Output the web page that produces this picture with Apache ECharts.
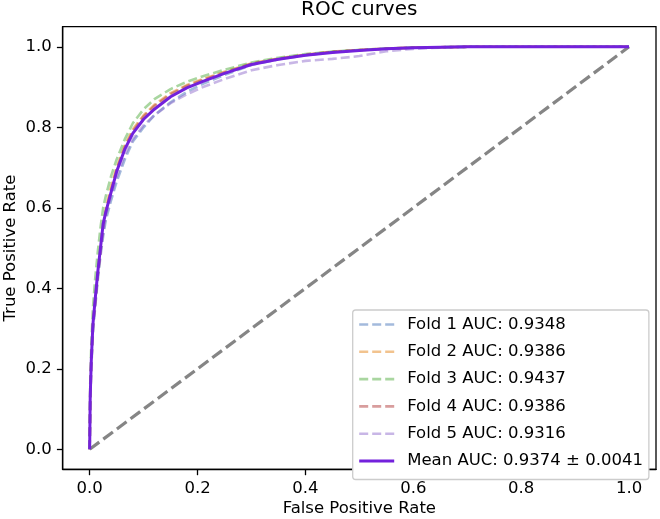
<!DOCTYPE html>
<html>
<head>
<meta charset="utf-8">
<script src="https://cdn.jsdelivr.net/npm/echarts@6/dist/echarts.min.js"></script>
<style>
html,body{margin:0;padding:0;background:#fff;}
#chart{width:660px;height:519px;}
</style>
</head>
<body>
<div id="chart"></div>
<script>
// ---- data ----
var tickValues = [0, 0.2, 0.4, 0.6, 0.8, 1.0];
var fprGrid = [0, 0.001, 0.003, 0.006, 0.01, 0.015, 0.02, 0.025, 0.03, 0.04, 0.05, 0.065, 0.08, 0.1, 0.12, 0.15, 0.18, 0.21, 0.25, 0.3, 0.35, 0.4, 0.45, 0.5, 0.55, 0.6, 0.65, 0.7, 0.8, 0.9, 1.0];
var fold1Tpr = [0, 0.12, 0.2, 0.29, 0.35, 0.42, 0.48, 0.53, 0.57, 0.62, 0.665, 0.72, 0.765, 0.80, 0.83, 0.862, 0.888, 0.908, 0.93, 0.955, 0.969, 0.979, 0.987, 0.992, 0.995, 0.998, 0.999, 1, 1, 1, 1];
var fold2Tpr = [0, 0.11, 0.21, 0.30, 0.37, 0.44, 0.50, 0.56, 0.60, 0.655, 0.70, 0.755, 0.795, 0.83, 0.856, 0.885, 0.905, 0.92, 0.938, 0.959, 0.971, 0.981, 0.988, 0.992, 0.996, 0.998, 0.999, 1, 1, 1, 1];
var fold3Tpr = [0, 0.16, 0.26, 0.35, 0.42, 0.49, 0.55, 0.60, 0.63, 0.68, 0.72, 0.77, 0.81, 0.845, 0.87, 0.895, 0.913, 0.927, 0.943, 0.961, 0.973, 0.982, 0.988, 0.992, 0.996, 0.998, 0.999, 1, 1, 1, 1];
var fold4Tpr = [0, 0.14, 0.23, 0.31, 0.36, 0.43, 0.49, 0.55, 0.59, 0.645, 0.695, 0.75, 0.79, 0.827, 0.853, 0.882, 0.903, 0.918, 0.936, 0.958, 0.970, 0.980, 0.987, 0.992, 0.995, 0.998, 0.999, 1, 1, 1, 1];
var fold5Tpr = [0, 0.12, 0.21, 0.3, 0.36, 0.43, 0.49, 0.54, 0.58, 0.63, 0.675, 0.73, 0.77, 0.805, 0.83, 0.86, 0.882, 0.9, 0.92, 0.942, 0.955, 0.965, 0.97, 0.977, 0.989, 0.995, 0.998, 1, 1, 1, 1];
var meanTpr = [0, 0.13, 0.22, 0.31, 0.37, 0.44, 0.50, 0.56, 0.59, 0.64, 0.69, 0.745, 0.785, 0.82, 0.845, 0.876, 0.898, 0.914, 0.934, 0.956, 0.969, 0.979, 0.986, 0.991, 0.995, 0.998, 0.999, 1, 1, 1, 1];
var chanceX = [0, 1];
var chanceY = [0, 1];
var foldNames = ['Fold 1 AUC: 0.9348', 'Fold 2 AUC: 0.9386', 'Fold 3 AUC: 0.9437', 'Fold 4 AUC: 0.9386', 'Fold 5 AUC: 0.9316'];
var meanName = 'Mean AUC: 0.9374 \u00b1 0.0041';
var foldColors = ['rgba(72,118,185,0.5)', 'rgba(230,135,30,0.5)', 'rgba(84,174,66,0.5)', 'rgba(178,60,60,0.5)', 'rgba(146,110,206,0.5)'];
var meanColor = '#7321dc';

function pairs(xs, ys) { return xs.map(function (x, i) { return [x, ys[i]]; }); }

var FONT = 'DejaVu Sans';
var foldData = [fold1Tpr, fold2Tpr, fold3Tpr, fold4Tpr, fold5Tpr];
var series = foldData.map(function (tpr, i) {
  return {
    name: foldNames[i], type: 'line', data: pairs(fprGrid, tpr),
    showSymbol: false, symbol: 'none', smooth: false, silent: true, z: 2,
    lineStyle: { color: foldColors[i], width: 2.6, type: [9, 4] },
    itemStyle: { color: foldColors[i] }
  };
});
series.push({
  name: 'chance', type: 'line', data: pairs(chanceX, chanceY),
  symbol: 'none', silent: true, z: 3,
  lineStyle: { color: '#858585', width: 3.2, type: [12, 5] }
});
series.push({
  name: meanName, type: 'line', data: pairs(fprGrid, meanTpr),
  symbol: 'none', silent: true, z: 4,
  lineStyle: { color: meanColor, width: 3 },
  itemStyle: { color: meanColor }
});

var axisCommon = {
  type: 'value', min: -0.05, max: 1.05,
  splitLine: { show: false },
  axisLine: { show: true, onZero: false, lineStyle: { color: '#000', width: 1.3 } },
  axisTick: { show: true, length: 5.8, inside: false, customValues: tickValues, lineStyle: { color: '#000', width: 1.3 } },
  axisLabel: { customValues: tickValues, margin: 11, color: '#000', fontSize: 16.5, fontFamily: FONT,
    formatter: function (v) { return v.toFixed(1); } },
  nameLocation: 'middle',
  nameMoveOverlap: false,
  nameTextStyle: { color: '#000', fontSize: 16.5, fontFamily: FONT }
};

var chart = echarts.init(document.getElementById('chart'), null, { renderer: 'canvas' });
chart.setOption({
  animation: false,
  backgroundColor: '#fff',
  title: {
    text: 'ROC curves', left: 301, top: 0, padding: 0,
    textStyle: { color: '#000', fontSize: 20, fontWeight: 'normal', fontFamily: FONT }
  },
  grid: { left: 62.7, right: 4, top: 26.7, bottom: 49.6, containLabel: false, outerBoundsMode: 'none',
    show: true, borderColor: '#000', borderWidth: 1.3, backgroundColor: 'transparent' },
  xAxis: Object.assign({}, axisCommon, { name: 'False Positive Rate', nameGap: 31 }),
  yAxis: Object.assign({}, axisCommon, { name: 'True Positive Rate', nameGap: 43 }),
  legend: {
    data: foldNames.concat([meanName]),
    orient: 'vertical', left: 352.7, top: 310,
    padding: [6, 6, 10, 5],
    itemWidth: 35, itemHeight: 14, itemGap: 10.3,
    backgroundColor: '#fff', borderColor: '#cccccc', borderWidth: 1.3, borderRadius: 3,
    selectedMode: false,
    itemStyle: { opacity: 0, borderWidth: 0 },
    lineStyle: { width: 'inherit', type: 'inherit' },
    textStyle: { color: '#000', fontSize: 16.5, fontFamily: FONT, lineHeight: 14, padding: [0, 0, 0, 8] }
  },
  series: series
});
</script>
</body>
</html>
